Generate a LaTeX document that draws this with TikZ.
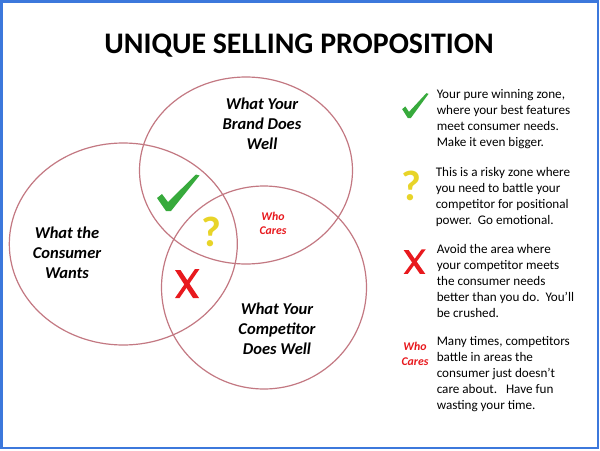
\documentclass[tikz,border=0pt]{standalone}
\usepackage{fontspec}
\setmainfont{Carlito}
\definecolor{frameblue}{RGB}{60,120,220}
\definecolor{ringred}{RGB}{195,120,130}
\definecolor{tickgreen}{RGB}{55,170,60}
\definecolor{qyellow}{RGB}{232,212,40}
\definecolor{xred}{RGB}{232,25,30}
\tikzset{
  ring/.style={draw=ringred, line width=0.9pt},
  venntitle/.style={font=\fontsize{12.4}{15}\selectfont\bfseries\itshape, align=center, inner sep=0pt, anchor=north},
  bodytext/.style={font=\fontsize{9.85}{12}\selectfont, align=left, inner sep=0pt, anchor=north west},
  whocares/.style={font=\fontsize{8.85}{10.7}\selectfont\bfseries\itshape, text=xred, align=center, inner sep=0pt, anchor=north},
  qmark/.style={font=\fontsize{32}{32}\selectfont\bfseries, text=qyellow, inner sep=0pt},
  checkmk/.pic={\fill[tickgreen] (-11,-13) -- (-6,-17) -- (0,-9) -- (28,-36.5) -- (31.5,-35.5) -- (3,0) -- (-2,0) -- cycle;},
  crossmk/.pic={\fill[xred] (-12,-14) -- (-6.5,-14) -- (12,14) -- (6,14) -- cycle;
                \fill[xred] (8,-15) -- (12.5,-15) -- (-7.5,14) -- (-12,14) -- cycle;}
}
\newcommand{\labstrut}{\rule{0pt}{10.5pt}}
\newcommand{\bodystrut}{\rule{0pt}{8.25pt}}
\newcommand{\whostrut}{\rule{0pt}{7.5pt}}
\begin{document}
\begin{tikzpicture}[x=0.75pt, y=-0.75pt]
\useasboundingbox (0,0) rectangle (600,450);
\fill[white] (0,0) rectangle (600,450);
\draw[frameblue, line width=1.95pt] (1.3,1.3) rectangle (598,448);
% title
\node[font=\fontsize{22.4}{26}\selectfont\bfseries, inner sep=0pt, anchor=base] (title) at (299,53.3) {UNIQUE SELLING PROPOSITION};
% circles
\coordinate (brandc) at (246,170.5);
\coordinate (consc) at (123.3,244);
\coordinate (compc) at (264,287.5);
\draw[ring] (brandc) ellipse [x radius=106.5, y radius=93.5];
\draw[ring] (consc) ellipse [x radius=114, y radius=101];
\draw[ring] (compc) ellipse [x radius=102.5, y radius=101.5];
% circle labels
\node[venntitle] (brandlab) at (262,95.3) {\labstrut What Your\\Brand Does\\Well};
\node[venntitle] (conslab) at (67,224.5) {\labstrut What the\\Consumer\\Wants};
\node[venntitle] (complab) at (277,300.5) {\labstrut What Your\\Competitor\\Does Well};
% zone marks
\pic at (168,211) {checkmk};
\node[qmark] (q1) at (211,231.5) {?};
\pic at (187,284) {crossmk};
\node[whocares] (who1) at (273,210) {\whostrut Who\\Cares};
% legend
\pic[xscale=0.62, yscale=0.68] at (409,118) {checkmk};
\node[bodytext] (t1) at (436.5,87.3) {\bodystrut Your pure winning zone,\\where your best features\\meet consumer needs.\\Make it even bigger.};
\node[qmark] (q2) at (411,185.5) {?};
\node[bodytext] (t2) at (435.5,165.7) {\bodystrut This is a risky zone where\\you need to battle your\\competitor for positional\\power.\ \ Go emotional.};
\pic[xscale=0.9, yscale=0.85] at (414.5,262) {crossmk};
\node[bodytext] (t3) at (436.5,242.3) {\bodystrut Avoid the area where\\your competitor meets\\the consumer needs\\better than you do.\ \ You’ll\\be crushed.};
\node[whocares] (who2) at (415,340.5) {\whostrut Who\\Cares};
\node[bodytext] (t4) at (436.5,334) {\bodystrut Many times, competitors\\battle in areas the\\consumer just doesn’t\\care about.\ \ \ Have fun\\wasting your time.};
\end{tikzpicture}
\end{document}
